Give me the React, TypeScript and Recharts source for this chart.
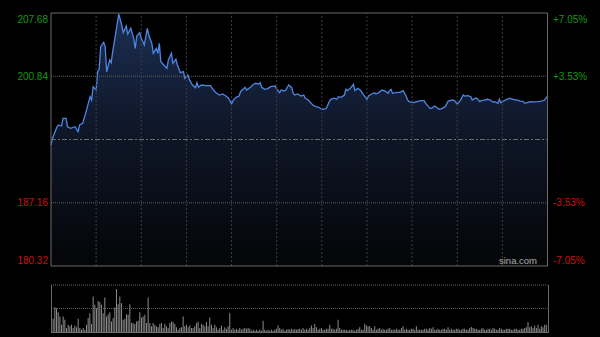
import React from 'react';
import { ComposedChart, Area, XAxis, YAxis, ReferenceLine, BarChart, Bar } from 'recharts';

// minutes from market open (HK session, 330 trading minutes)
const minutes = [
  0, 1, 4, 5, 7, 8, 10, 11, 13, 16,
  18, 19, 21, 23, 26, 27, 28, 30, 31, 32,
  33, 35, 36, 37, 39, 40, 41, 43, 45, 47,
  48, 50, 51, 53, 55, 56, 57, 59, 60, 62,
  64, 65, 67, 68, 70, 71, 72, 73, 76, 77,
  78, 80, 81, 83, 84, 86, 88, 89, 91, 92,
  94, 96, 97, 98, 100, 103, 106, 108, 110, 112,
  114, 116, 118, 120, 121, 123, 125, 126, 129, 130,
  133, 134, 136, 138, 139, 140, 142, 144, 146, 149,
  150, 152, 153, 155, 156, 158, 160, 161, 162, 164,
  166, 168, 169, 171, 173, 174, 176, 178, 180, 181,
  183, 185, 186, 188, 190, 191, 193, 195, 196, 197,
  199, 201, 202, 204, 206, 207, 209, 210, 211, 213,
  215, 216, 218, 220, 222, 224, 225, 226, 227, 230,
  232, 234, 236, 237, 238, 241, 243, 246, 248, 249,
  252, 253, 255, 257, 258, 260, 262, 264, 267, 268,
  270, 272, 274, 275, 277, 279, 280, 282, 283, 285,
  286, 288, 290, 292, 294, 295, 297, 298, 299, 300,
  303, 305, 307, 310, 312, 314, 315, 317, 319, 321,
  324, 326, 328, 330,
];

const prices = [
  193.41, 194.13, 195.38, 195.57, 195.46, 196.29, 196.29, 195.38, 195.21, 195.38,
  194.84, 195.57, 195.75, 196.83, 198.63, 198.27, 199.71, 199.35, 201.33, 201.59,
  204.04, 204.51, 204.04, 201.33, 202.60, 202.31, 203.50, 205.48, 207.57, 206.38,
  205.55, 206.27, 205.41, 206.03, 204.94, 203.86, 205.19, 205.55, 204.94, 204.22,
  206.03, 205.30, 204.40, 203.32, 203.86, 203.32, 204.40, 202.41, 201.87, 201.70,
  202.60, 203.32, 202.24, 202.67, 202.06, 201.22, 201.33, 200.62, 200.98, 200.44,
  199.89, 199.60, 200.14, 199.65, 199.89, 199.82, 199.82, 199.35, 198.99, 198.81,
  198.92, 198.74, 198.46, 197.84, 198.20, 198.56, 198.70, 199.17, 199.65, 199.35,
  199.71, 199.89, 200.08, 200.00, 200.14, 199.65, 199.43, 199.50, 199.71, 199.79,
  199.43, 199.06, 199.35, 199.24, 199.35, 199.89, 199.60, 198.99, 198.81, 198.92,
  198.70, 198.81, 198.46, 198.27, 197.91, 197.73, 197.55, 197.48, 197.27, 197.27,
  197.37, 198.09, 198.35, 198.46, 198.35, 198.63, 198.56, 198.81, 199.43, 199.28,
  199.54, 199.97, 199.28, 199.54, 199.28, 198.99, 198.56, 198.35, 198.70, 198.92,
  199.06, 198.92, 199.10, 199.35, 199.24, 198.99, 199.28, 199.43, 198.99, 199.10,
  199.10, 199.28, 198.70, 198.27, 198.09, 197.98, 198.09, 198.20, 198.20, 197.91,
  197.37, 197.37, 197.62, 197.37, 197.27, 197.37, 197.55, 198.15, 198.27, 198.20,
  197.84, 198.20, 198.81, 198.70, 198.74, 198.63, 198.27, 198.46, 198.46, 198.09,
  198.20, 198.27, 198.35, 198.27, 198.02, 198.09, 197.91, 198.35, 197.98, 198.09,
  198.35, 198.46, 198.35, 198.27, 198.16, 198.09, 197.91, 198.02, 198.09, 198.06,
  198.09, 198.16, 198.27, 198.70,
];

const prevClose = 194.0;
const priceTicks = [180.32, 187.16, 194.0, 200.84, 207.68];
const timeTicks = [30, 60, 90, 120, 150, 180, 210, 240, 270, 300];
const sessionMinutes = [0, 330];

// relative volume per bar (morning part, then afternoon part)
const volumeAm = [
  72, 40, 75, 72, 60, 47, 22, 47, 37, 12,
  22, 17, 22, 12, 20, 14, 40, 12, 7, 12,
  7, 22, 42, 57, 24, 107, 82, 72, 94, 90,
  82, 57, 104, 47, 54, 60, 32, 42, 74, 130,
  84, 107, 87, 37, 40, 54, 52, 84, 27, 27,
  24, 32, 34, 60, 44, 47, 52, 27, 104, 27,
  17, 27, 22, 17, 14, 24, 27, 12, 24, 17,
  12, 27, 32, 30, 24, 14, 7, 12, 14, 47,
  17, 22, 14, 20, 12, 12, 17, 27, 32, 12,
  24, 22, 17, 30, 17, 44, 22, 12, 22, 14,
  7, 12, 20, 7, 14, 10, 17, 57, 7, 12,
  7, 10, 7, 12, 7, 10, 12, 10, 12, 10,
  4, 7, 4, 7, 4, 7, 4, 34, 7, 4,
  7, 4, 7, 4, 7, 10, 20, 12, 7, 10,
  4, 7, 9, 7, 10, 7, 9, 7, 9,
];
const volumePm = [
  10, 7, 12, 7, 10, 7, 12, 20, 12, 24,
  14, 7, 10, 12, 7, 7, 10, 10, 22, 10,
  10, 7, 10, 37, 12, 7, 7, 7, 7, 4,
  7, 7, 7, 4, 7, 10, 14, 7, 7, 24,
  20, 17, 17, 12, 7, 17, 7, 10, 12, 7,
  10, 7, 7, 10, 12, 7, 7, 7, 10, 7,
  7, 12, 17, 7, 10, 7, 7, 10, 10, 7,
  17, 7, 7, 7, 7, 10, 10, 7, 12, 10,
  14, 7, 7, 10, 7, 7, 10, 10, 7, 14,
  7, 10, 7, 7, 10, 10, 7, 7, 10, 10,
  7, 7, 12, 15, 12, 10, 10, 7, 7, 10,
  12, 7, 7, 10, 10, 7, 12, 10, 7, 7,
  12, 10, 7, 7, 10, 10, 10, 7, 7, 10,
  10, 7, 7, 10, 10, 12, 14, 30, 14, 17,
  12, 20, 12, 22, 10, 17, 14, 22, 22,
];
const volumeMax = 142;

const priceData = minutes.map((t, i) => ({ t, price: prices[i] }));
const volumes = [...volumeAm, ...volumePm];
const volData = volumes.map((v, i) => ({ i, v }));

const FONT = '"Liberation Sans", Arial, Helvetica, sans-serif';
const GREEN = '#129a12';
const RED = '#cc1111';
const pMin = priceTicks[0];
const pMax = priceTicks[priceTicks.length - 1];

function edgeShift(v: number) {
  if (v === pMax) return 6;
  if (v === pMin) return -6;
  return 0;
}

function LeftTick(props: any) {
  const { y, payload } = props;
  const v = payload.value as number;
  if (Math.abs(v - prevClose) < 1e-6) return <g />;
  return (
    <text x={48} y={y + edgeShift(v)} textAnchor="end" dominantBaseline="central"
      fill={v > prevClose ? GREEN : RED} fontSize={10} fontFamily={FONT}>
      {v.toFixed(2)}
    </text>
  );
}

function RightTick(props: any) {
  const { y, payload } = props;
  const v = payload.value as number;
  if (Math.abs(v - prevClose) < 1e-6) return <g />;
  const pct = ((v - prevClose) / prevClose) * 100;
  const label = (pct > 0 ? '+' : '') + pct.toFixed(2) + '%';
  return (
    <text x={553} y={y + edgeShift(v)} textAnchor="start" dominantBaseline="central"
      fill={v > prevClose ? GREEN : RED} fontSize={10} fontFamily={FONT}>
      {label}
    </text>
  );
}

export default function App() {
  return (
    <div style={{ position: 'fixed', left: 0, top: 0, width: 600, height: 337, background: '#000', overflow: 'hidden' }}>
      <div style={{ position: 'absolute', left: 0, top: 0 }}>
        <ComposedChart width={600} height={337} data={priceData}
          margin={{ top: 13, right: 0, bottom: 71, left: 0 }}>
          <defs>
            <linearGradient id="areaFill" x1="0" y1="0" x2="0" y2="1">
              <stop offset="0%" stopColor="#1c2e52" />
              <stop offset="45%" stopColor="#0f1729" />
              <stop offset="100%" stopColor="#040507" />
            </linearGradient>
          </defs>
          <XAxis dataKey="t" type="number" domain={sessionMinutes} ticks={timeTicks} hide />
          <YAxis yAxisId="p" domain={[pMin, pMax]} ticks={priceTicks} width={51}
            axisLine={false} tickLine={false} tick={<LeftTick />} allowDataOverflow />
          <YAxis yAxisId="r" orientation="right" domain={[pMin, pMax]} ticks={priceTicks} width={52.5}
            axisLine={false} tickLine={false} tick={<RightTick />} allowDataOverflow />
          <Area yAxisId="p" type="linear" dataKey="price" stroke="#4e86e4" strokeWidth={1.3}
            fill="url(#areaFill)" fillOpacity={1} dot={false} activeDot={false} isAnimationActive={false} />
          {timeTicks.map((t) => (
            <ReferenceLine key={t} yAxisId="p" x={t} stroke="#3e3e3e" strokeDasharray="2 2" />
          ))}
          <ReferenceLine yAxisId="p" y={priceTicks[3]} stroke="#5e5e5e" strokeDasharray="1 1" />
          <ReferenceLine yAxisId="p" y={priceTicks[1]} stroke="#5e5e5e" strokeDasharray="1 1" />
          <ReferenceLine yAxisId="p" y={prevClose} stroke="#6a6a6a" strokeDasharray="5 2 2 2" />
          <ReferenceLine yAxisId="p" y={pMax} stroke="#6a6a6a" />
          <ReferenceLine yAxisId="p" y={pMin} stroke="#6a6a6a" />
          <ReferenceLine yAxisId="p" x={sessionMinutes[0]} stroke="#6a6a6a" />
          <ReferenceLine yAxisId="p" x={sessionMinutes[1]} stroke="#6a6a6a" />
        </ComposedChart>
      </div>
      <div style={{ position: 'absolute', left: 0, top: 0 }}>
        <BarChart width={600} height={337} data={volData}
          margin={{ top: 285, right: 52.5, bottom: 5, left: 51 }}>
          <XAxis dataKey="i" hide />
          <YAxis domain={[0, volumeMax]} hide allowDataOverflow />
          <ReferenceLine y={volumeMax} stroke="#6a6a6a" strokeDasharray="1 1" />
          <ReferenceLine y={volumeMax / 2} stroke="#5e5e5e" strokeDasharray="1 1" />
          <Bar dataKey="v" fill="#8c8c8c" barSize={1} isAnimationActive={false} />
        </BarChart>
      </div>
      <div style={{ position: 'absolute', left: 51, top: 285, width: 496, height: 47,
        borderLeft: '1px solid #6a6a6a', borderRight: '1px solid #6a6a6a', borderBottom: '1px solid #6a6a6a',
        pointerEvents: 'none' }} />
      <div style={{ position: 'absolute', left: 499, top: 255, fontFamily: FONT, fontSize: 9.5,
        color: '#9a9a9a', textShadow: '0 0 1px #444' }}>sina.com</div>
    </div>
  );
}
